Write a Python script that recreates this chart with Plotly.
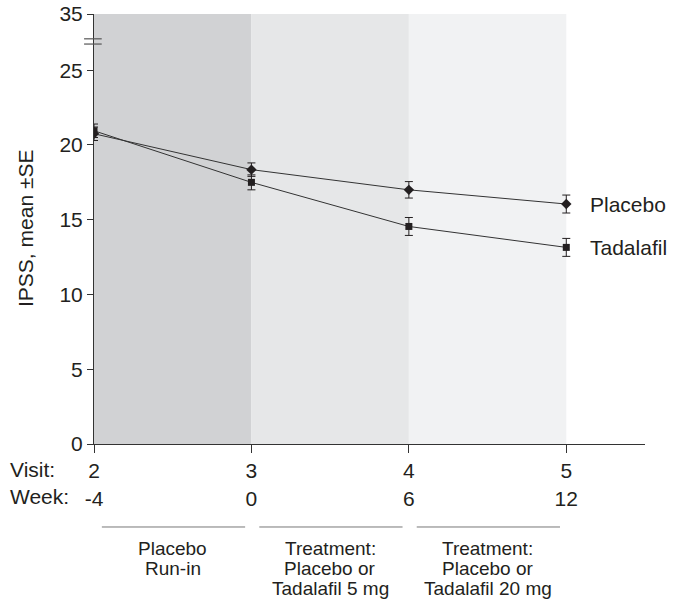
import plotly.graph_objects as go

# ---- data ----
visits = [2, 3, 4, 5]
weeks = ["-4", "0", "6", "12"]
placebo = [20.75, 18.35, 17.0, 16.05]
placebo_se = [0.45, 0.45, 0.55, 0.6]
tadalafil = [20.95, 17.5, 14.55, 13.15]
tadalafil_se = [0.45, 0.5, 0.6, 0.6]
y_tick_values = [0, 5, 10, 15, 20, 25, 35]
phase_labels = [["Placebo", "Run-in"],
                ["Treatment:", "Placebo or", "Tadalafil 5 mg"],
                ["Treatment:", "Placebo or", "Tadalafil 20 mg"]]
phase_bounds = [(2, 3), (3, 4), (4, 5)]
phase_colors = ["#d1d2d4", "#e6e7e8", "#f1f2f3"]

# broken y axis: values above 25 are compressed
BREAK = 25
COMP = 0.376
def disp(v):
    return v if v <= BREAK else BREAK + (v - BREAK) * COMP

YTOP = disp(35)
FONT = "Liberation Sans, Arial, sans-serif"
INK = "#231f20"

fig = go.Figure()

fig.add_trace(go.Scatter(
    x=visits, y=[disp(v) for v in placebo], mode="lines+markers", name="Placebo",
    line=dict(color="#333333", width=1),
    marker=dict(symbol="diamond", size=8, color=INK),
    error_y=dict(type="data", array=placebo_se, thickness=1, width=4, color=INK),
    showlegend=False))
fig.add_trace(go.Scatter(
    x=visits, y=[disp(v) for v in tadalafil], mode="lines+markers", name="Tadalafil",
    line=dict(color="#333333", width=1),
    marker=dict(symbol="square", size=7, color=INK),
    error_y=dict(type="data", array=tadalafil_se, thickness=1, width=4, color=INK),
    showlegend=False))

shapes = []
for (a, b), c in zip(phase_bounds, phase_colors):
    shapes.append(dict(type="rect", xref="x", yref="paper", x0=a, x1=b, y0=0, y1=1,
                       fillcolor=c, line=dict(width=0), layer="below"))
# underline segments above phase labels
for a, b in phase_bounds:
    shapes.append(dict(type="line", xref="x", yref="paper", x0=a + 0.05, x1=b - 0.04,
                       y0=-0.193, y1=-0.193, line=dict(color="#777777", width=1)))
# axis break marks
for yb in [27.1, 26.75]:
    shapes.append(dict(type="line", xref="paper", yref="y", x0=-0.018, x1=0.014,
                       y0=yb, y1=yb, line=dict(color="#555555", width=1.2)))

annotations = []
for (a, b), lines in zip(phase_bounds, phase_labels):
    for i, t in enumerate(lines):
        annotations.append(dict(x=(a + b) / 2, xref="x", y=0, yref="paper",
                                yshift=-104 - 20 * i, text=t,
                                showarrow=False, yanchor="middle", xanchor="center",
                                font=dict(family=FONT, size=19, color=INK)))
annotations.append(dict(x=0, xref="paper", xshift=-86, y=0, yref="paper", yshift=-12,
                        text="Visit:<br>Week:", showarrow=False, align="left",
                        xanchor="left", yanchor="top",
                        font=dict(family=FONT, size=21, color=INK)))
annotations.append(dict(x=5, xref="x", xshift=22, y=disp(placebo[-1]), yref="y",
                        text="Placebo", showarrow=False, xanchor="left",
                        font=dict(family=FONT, size=21, color=INK)))
annotations.append(dict(x=5, xref="x", xshift=22, y=disp(tadalafil[-1]), yref="y",
                        text="Tadalafil", showarrow=False, xanchor="left",
                        font=dict(family=FONT, size=21, color=INK)))
# y-axis title
annotations.append(dict(x=0, xref="paper", xshift=-69, y=0.5, yref="paper",
                        text="IPSS, mean ±SE", textangle=-90, showarrow=False,
                        xanchor="center", yanchor="middle",
                        font=dict(family=FONT, size=21, color=INK)))

fig.update_layout(
    width=674, height=600,
    margin=dict(l=94, r=29, t=14, b=156),
    plot_bgcolor="white", paper_bgcolor="white",
    shapes=shapes, annotations=annotations,
    font=dict(family=FONT, size=21, color=INK),
    xaxis=dict(range=[2, 5.5], tickvals=visits,
               ticktext=[f"{v}<br>{w}" for v, w in zip(visits, weeks)],
               automargin=False,
               showgrid=False, zeroline=False, showline=True, linecolor="#333333",
               linewidth=1, ticks="outside", ticklen=8, tickcolor="#333333",
               tickfont=dict(family=FONT, size=21, color=INK)),
    yaxis=dict(range=[0, YTOP + 1e-6], tickvals=[disp(v) for v in y_tick_values],
               ticktext=[str(v) for v in y_tick_values],
               automargin=False, ticklabeloverflow="allow",
               showgrid=False, zeroline=False, showline=True, linecolor="#333333",
               linewidth=1, ticks="outside", ticklen=6, tickcolor="#333333",
               tickfont=dict(family=FONT, size=21, color=INK)),
)

fig.write_html("out.html", config={"displayModeBar": False},
               post_script="document.body.style.margin='0';document.body.style.overflow='hidden';")
